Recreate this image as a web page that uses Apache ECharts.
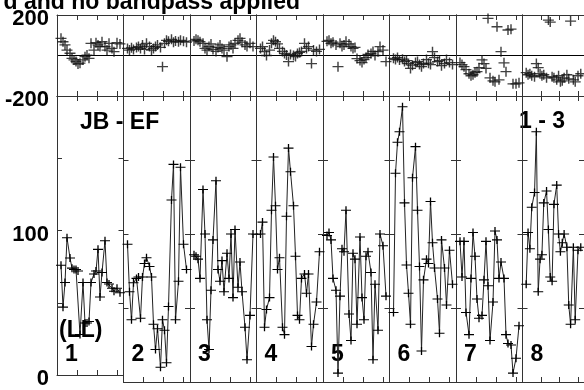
<!DOCTYPE html>
<html><head><meta charset="utf-8">
<script src="https://cdn.jsdelivr.net/npm/echarts@6/dist/echarts.min.js"></script>
<style>html,body{margin:0;padding:0;background:#fff}#c{width:584px;height:390px}</style>
</head><body><div id="c"></div>
<script>
// ---- data ----
const ifLabels = ['1','2','3','4','5','6','7','8'];
const times = [4,6,8,10,13,15,17,19,21,23,26,28,30,32,34,37,39,41,43,45,48,50,52,55,57,60,63];
const amp1 = [76,47,64,95,81,74,73,73,72,28,64,36,36,37,64,70,72,87,54,71,93,64,63,60,58,60,57];
const amp2 = [93,61,42,67,70,71,43,71,80,84,78,71,39,22,36,10,42,35,13,51,123,147,42,68,145,93,76];
const amp3 = [86,85,83,70,130,100,42,22,62,96,136,76,68,82,61,87,70,100,57,103,64,81,61,37,15,45,100];
const amp4 = [100,108,37,49,57,116,152,119,76,84,37,32,112,158,142,119,85,45,42,70,73,60,73,24,39,54,88];
const amp5 = [99,101,96,70,62,6,58,90,88,116,46,28,87,83,39,98,57,42,85,88,74,15,66,35,100,92,58];
const amp6 = [47,141,162,169,186,121,79,60,39,138,159,116,78,21,69,83,80,122,94,77,56,33,96,77,52,89,66];
const amp7 = [95,71,95,47,32,70,101,85,56,43,45,69,95,65,28,54,102,96,70,81,70,32,26,25,6,16,38];
const amp8 = [66,101,90,118,128,169,61,83,86,121,129,103,71,68,120,133,100,88,94,100,91,52,39,91,42,89,91];
const phase1 = [85,68,52,27,11,-14,-22,-30,-42,-38,-22,-6,2,-14,60,27,63,52,44,68,44,27,60,35,19,63,57];
const phase2 = [35,27,38,30,40,44,35,52,30,60,44,27,35,44,52,40,-55,60,75,70,80,66,72,68,75,70,66];
const phase3 = [72,80,75,68,60,35,27,44,57,30,20,40,52,35,27,-6,44,52,35,60,75,85,66,52,44,60,44];
const phase4 = [35,44,19,0,27,60,75,68,57,35,20,10,2,-30,5,0,-5,10,15,20,60,35,44,-40,27,20,30];
const phase5 = [70,75,60,66,52,-55,60,44,52,70,57,44,35,40,-15,-25,-35,-20,-10,5,10,20,0,19,44,27,-30];
const phase6 = [-14,-20,-10,-22,-18,-30,-25,-40,-64,-48,-35,-30,-45,-55,-40,-20,-38,-45,19,-10,-30,-25,-50,-40,-20,-35,-45];
const phase7 = [-35,-45,-55,-70,-90,-100,-95,-85,-80,-60,-22,-40,-64,183,-110,-125,-130,142,-120,19,-36,-80,126,130,-140,-140,-135];
const phase8 = [-85,-95,-90,-100,-105,-40,-60,-90,-100,-95,-110,175,165,-105,-110,-120,-100,-130,-125,-110,-95,-115,170,-120,-130,-100,-90];
const phaseTickLabels = ['-200','200'];
const ampTickLabels = ['0','100'];

const amps = [amp1,amp2,amp3,amp4,amp5,amp6,amp7,amp8];
const phases = [phase1,phase2,phase3,phase4,phase5,phase6,phase7,phase8];

// ---- layout / style ----
const FONT = '"Liberation Sans", Arial, sans-serif';
const C = '#333';
const PLOT_L = 57, IFW = 66.5;
const PLUS = 'path://M0,4.35H10V5.65H0ZM4.35,0H5.65V10H4.35Z';

const grids = [], xAxes = [], yAxes = [], series = [];
function xAx(g, pos) {
  return { type:'value', gridIndex:g, position:pos, min:0, max:IFW, interval:20,
    axisLine:{show:true,onZero:false,lineStyle:{color:C,width:1}},
    axisTick:{show:true,inside:true,length:5,lineStyle:{color:C,width:1}},
    axisLabel:{show:false}, splitLine:{show:false} };
}
function yAx(g, pos, kind, showLabels) {
  const isPh = kind === 'phase';
  const labels = isPh ? phaseTickLabels : ampTickLabels;
  return { type:'value', gridIndex:g, position:pos,
    min: isPh ? -200 : 0, max: isPh ? 200 : 193.2, interval: isPh ? 200 : 50,
    axisLine:{show:true,onZero:false,lineStyle:{color:C,width:1}},
    axisTick:{show:!isPh,inside:true,length:5,lineStyle:{color:C,width:1}},
    axisLabel:{show:showLabels, margin:8,
      formatter: v => labels.includes(String(v)) ? '{a|' + v + '}' : '',
      rich:{a:{color:'#000', fontFamily:FONT, fontWeight:'bold', fontSize:22, lineHeight:8, padding:[8,0,0,0]}}},
    splitLine:{show: isPh && pos==='left', lineStyle:{color:'#000',width:1}} };
}
for (let p = 0; p < 2; p++) {
  for (let i = 0; i < 8; i++) {
    const g = p*8 + i;
    grids.push(p === 0
      ? {left: PLOT_L + i*IFW, top: 15, width: IFW, height: 81}
      : {left: PLOT_L + i*IFW, top: 96, width: IFW, height: 286});
    xAxes.push(xAx(g,'bottom'), xAx(g,'top'));
    const kind = p === 0 ? 'phase' : 'amp';
    yAxes.push(yAx(g,'left',kind,i===0), yAx(g,'right',kind,false));
    if (p === 0) {
      series.push({type:'scatter', xAxisIndex:2*g, yAxisIndex:2*g,
        data: times.map((t,k)=>[t, phases[i][k]]),
        symbol:PLUS, symbolSize:[11,10], itemStyle:{color:'#111'}, silent:true});
    } else {
      series.push({type:'line', xAxisIndex:2*g, yAxisIndex:2*g,
        data: times.map((t,k)=>[t, amps[i][k]]),
        symbol:PLUS, symbolSize:[10,8], showSymbol:true,
        lineStyle:{color:'#222',width:1}, itemStyle:{color:'#000'}, silent:true});
    }
  }
}

const txt = (text, x, y, align, size) => ({type:'text', x, y, silent:true,
  style:{text, align, verticalAlign:'middle', fill:'#000', font:'bold '+size+'px '+FONT}});
const graphic = [
  txt('d and no bandpass applied', 300, 3, 'right', 23),
  txt('JB - EF', 80, 123, 'left', 23),
  txt('1 - 3', 519, 122, 'left', 23),
  txt('(LL)', 59, 331, 'left', 23)
];
ifLabels.forEach((s,i)=>graphic.push(txt(s, PLOT_L + i*IFW + 8, 355, 'left', 23)));

const chart = echarts.init(document.getElementById('c'), null, {renderer:'canvas'});
chart.setOption({animation:false, backgroundColor:'#fff', grid:grids, xAxis:xAxes, yAxis:yAxes, series, graphic});
</script></body></html>
